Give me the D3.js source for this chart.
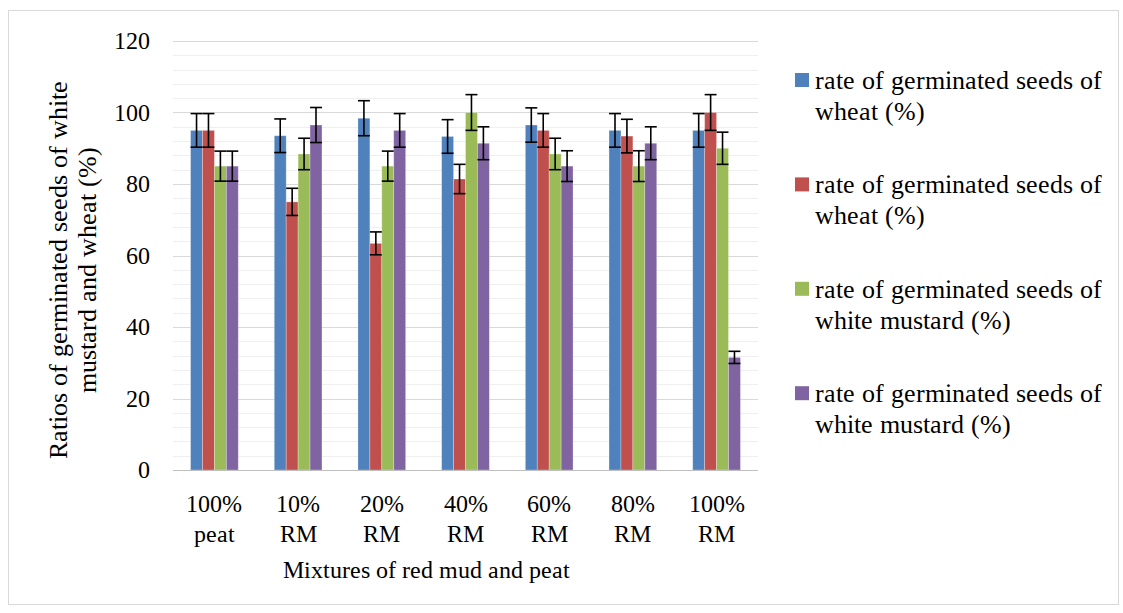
<!DOCTYPE html>
<html>
<head>
<meta charset="utf-8">
<script src="https://cdn.jsdelivr.net/npm/d3@7"></script>
<style>
  @font-face { font-family: "ChartSerif"; src: local("Liberation Serif"), local("LiberationSerif"), local("Liberation Serif Regular"); }
  body { margin: 0; background: #fff; }
  svg text, svg tspan { font-family: "ChartSerif", "Liberation Serif", "Times New Roman", serif !important; }
</style>
</head>
<body>
<svg width="1123" height="613"></svg>
<script>
// data
var categories = ["100%|peat", "10%|RM", "20%|RM", "40%|RM", "60%|RM", "80%|RM", "100%|RM"];
var seriesNames = [
  "rate of germinated seeds of|wheat (%)",
  "rate of germinated seeds of|wheat (%)",
  "rate of germinated seeds of|white mustard (%)",
  "rate of germinated seeds of|white mustard (%)"
];
var wheatA   = [95, 93.5, 98.4, 93.3, 96.5, 95, 95];
var wheatB   = [95, 75, 63.4, 81.4, 95, 93.4, 100];
var mustardA = [85, 88.4, 85, 100, 88.4, 85, 90];
var mustardB = [85, 96.5, 95, 91.4, 85, 91.4, 31.5];
var errWheatA   = [4.7, 4.7, 4.9, 4.7, 4.8, 4.7, 4.7];
var errWheatB   = [4.7, 3.8, 3.2, 4.1, 4.7, 4.7, 5];
var errMustardA = [4.2, 4.4, 4.2, 5, 4.4, 4.3, 4.5];
var errMustardB = [4.2, 4.9, 4.7, 4.6, 4.3, 4.6, 1.7];
var yTicks = [0, 20, 40, 60, 80, 100, 120];
var colors = ["#4F81BD", "#C0504D", "#9BBB59", "#8064A2"];

var values = [wheatA, wheatB, mustardA, mustardB];
var errors = [errWheatA, errWheatB, errMustardA, errMustardB];

var serif = "ChartSerif, 'Liberation Serif', 'Times New Roman', serif";

var svg = d3.select("svg");

// outer frame
svg.append("rect")
  .attr("x", 8.5).attr("y", 10.5)
  .attr("width", 1110).attr("height", 594)
  .attr("fill", "#fff")
  .attr("stroke", "#d9d9d9");

var x = d3.scaleBand()
  .domain(categories)
  .range([173, 758])
  .paddingInner(0.43)
  .paddingOuter(0.21);

var x1 = d3.scaleBand()
  .domain(d3.range(4))
  .range([0, x.bandwidth()]);

var y = d3.scaleLinear().domain([0, 120]).range([470, 41]);

// gridlines, minor every 4, major every 20
var grid = svg.append("g");
grid.selectAll("line")
  .data(d3.range(0, 121, 4))
  .enter().append("line")
  .attr("x1", 173).attr("x2", 758)
  .attr("y1", function(d) { return Math.round(y(d)) + 0.5; })
  .attr("y2", function(d) { return Math.round(y(d)) + 0.5; })
  .attr("stroke", function(d) { return d % 20 === 0 ? "#d9d9d9" : "#efefef"; })
  .attr("stroke-width", 1.2);

// bars
var rows = categories.map(function(c, i) {
  return values.map(function(v, s) {
    return { cat: c, s: s, v: v[i], e: errors[s][i] };
  });
});

var group = svg.selectAll(".grp")
  .data(rows)
  .enter().append("g")
  .attr("class", "grp")
  .attr("transform", function(d, i) { return "translate(" + x(categories[i]) + ",0)"; });

group.selectAll("rect")
  .data(function(d) { return d; })
  .enter().append("rect")
  .attr("x", function(d) { return x1(d.s); })
  .attr("y", function(d) { return y(d.v); })
  .attr("width", x1.bandwidth())
  .attr("height", function(d) { return y(0) - y(d.v); })
  .attr("fill", function(d) { return colors[d.s]; })
  .attr("stroke", "rgba(255,255,255,0.35)")
  .attr("stroke-width", 0.8);

// error bars
var eb = group.selectAll(".err")
  .data(function(d) { return d; })
  .enter().append("g")
  .attr("class", "err")
  .attr("stroke", "#000")
  .attr("stroke-width", 1.6);

eb.append("line")
  .attr("x1", function(d) { return x1(d.s) + x1.bandwidth() / 2; })
  .attr("x2", function(d) { return x1(d.s) + x1.bandwidth() / 2; })
  .attr("y1", function(d) { return y(d.v + d.e); })
  .attr("y2", function(d) { return y(d.v - d.e); });
eb.append("line")
  .attr("x1", function(d) { return x1(d.s); })
  .attr("x2", function(d) { return x1(d.s) + x1.bandwidth(); })
  .attr("y1", function(d) { return y(d.v + d.e); })
  .attr("y2", function(d) { return y(d.v + d.e); });
eb.append("line")
  .attr("x1", function(d) { return x1(d.s); })
  .attr("x2", function(d) { return x1(d.s) + x1.bandwidth(); })
  .attr("y1", function(d) { return y(d.v - d.e); })
  .attr("y2", function(d) { return y(d.v - d.e); });

// x axis line
svg.append("line")
  .attr("x1", 173).attr("x2", 758)
  .attr("y1", Math.round(y(0)) + 0.5).attr("y2", Math.round(y(0)) + 0.5)
  .attr("stroke", "#bfbfbf").attr("stroke-width", 1.2);

// y tick labels
svg.append("g").selectAll("text")
  .data(yTicks)
  .enter().append("text")
  .attr("x", 150)
  .attr("y", function(d) { return y(d); })
  .attr("dy", "0.35em")
  .attr("text-anchor", "end")
  .attr("font-size", 24)
  .text(function(d) { return d; });

// x category labels
var xl = svg.append("g").selectAll("text")
  .data(categories)
  .enter().append("text")
  .attr("text-anchor", "middle")
  .attr("font-size", 24)
  .attr("transform", function(d) { return "translate(" + (x(d) + x.bandwidth() / 2) + ",512)"; });
xl.selectAll("tspan")
  .data(function(d) { return d.split("|"); })
  .enter().append("tspan")
  .attr("x", 0)
  .attr("y", function(d, i) { return i * 30; })
  .text(function(d) { return d; });

// axis titles
svg.append("text")
  .attr("x", 426).attr("y", 578)
  .attr("text-anchor", "middle")
  .attr("font-size", 23.5)
  .text("Mixtures of red mud and peat");

var yt = svg.append("text")
  .attr("text-anchor", "middle")
  .attr("font-size", 26)
  .attr("transform", "translate(67,270) rotate(-90)");
yt.append("tspan").attr("x", 0).attr("y", 0).text("Ratios of germinated seeds of white");
yt.append("tspan").attr("x", 0).attr("y", 29).text("mustard and wheat (%)");

// legend
var legend = svg.selectAll(".legend")
  .data(seriesNames)
  .enter().append("g")
  .attr("class", "legend")
  .attr("transform", function(d, i) { return "translate(795," + (73 + i * 104.4) + ")"; });

legend.append("rect")
  .attr("width", 14).attr("height", 14)
  .attr("fill", function(d, i) { return colors[i]; });

var lt = legend.append("text")
  .attr("font-size", 26);
lt.selectAll("tspan")
  .data(function(d) { return d.split("|"); })
  .enter().append("tspan")
  .attr("x", 20)
  .attr("y", function(d, i) { return 16 + i * 31; })
  .text(function(d) { return d; });

// serif on every text node, inline with priority
svg.selectAll("text, tspan").style("font-family", serif, "important");
</script>
</body>
</html>
